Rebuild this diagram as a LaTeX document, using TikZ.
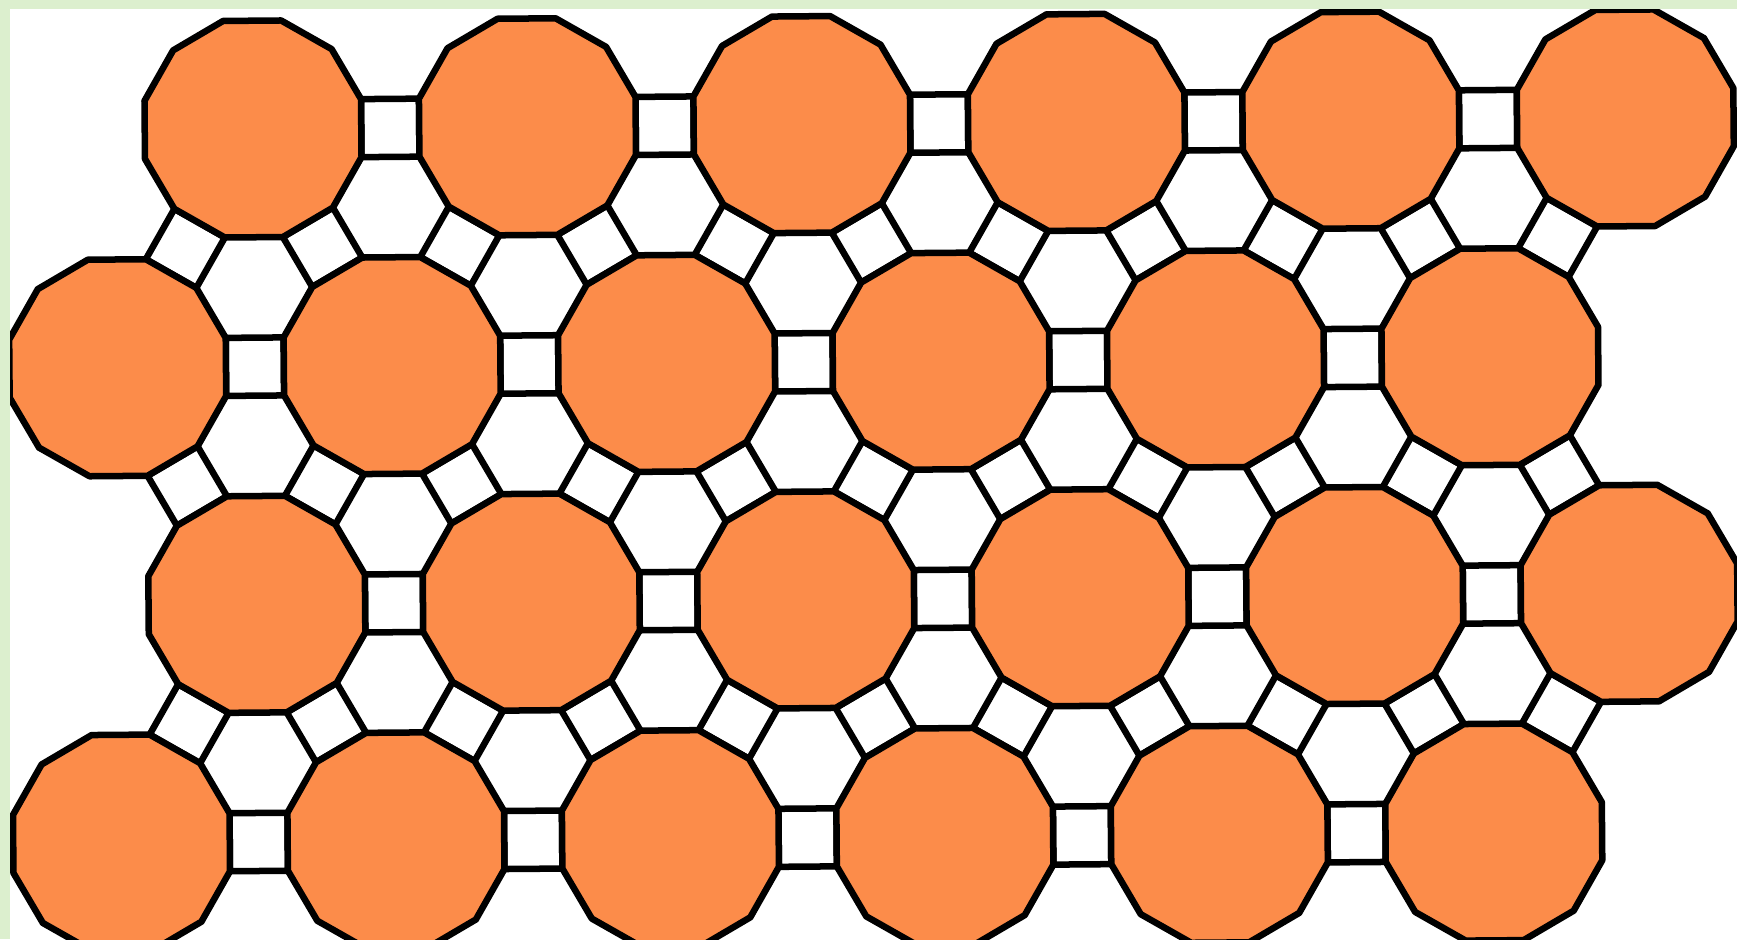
\documentclass[tikz,border=0pt]{standalone}
\usetikzlibrary{calc}
\definecolor{tileorange}{RGB}{252,140,74}
\definecolor{framegreen}{RGB}{220,239,206}
\newcommand{\tilestep}{274.5}
\newcommand{\rowstep}{237.7}
\newcommand{\dodrad}{112.1}
\newcommand{\sqnear}{0.3945}
\newcommand{\sqfar}{0.6055}
\newcommand{\sqhalf}{0.29cm}
\tikzset{
  dodeca/.style={
    draw=black, fill=tileorange, line width=0.065cm, line join=round
  },
  squaretile/.style={
    draw=black, fill=white, line width=0.065cm, line join=round
  },
  frameband/.style={fill=framegreen, draw=none}
}
% square tile between two neighbouring dodecagon centres
\newcommand{\sqtile}[2]{%
  \draw[squaretile] ($(#1)!\sqnear!(#2)!\sqhalf!90:(#2)$)
    -- ($(#1)!\sqfar!(#2)!\sqhalf!90:(#2)$)
    -- ($(#1)!\sqfar!(#2)!\sqhalf!-90:(#2)$)
    -- ($(#1)!\sqnear!(#2)!\sqhalf!-90:(#2)$) -- cycle;}

\begin{document}
\begin{tikzpicture}[x=0.01cm,y=0.01cm]
  \useasboundingbox (0,0) rectangle (1737,939);
  \clip (0,0) rectangle (1737,939);
  \fill[white] (0,0) rectangle (1737,939);

  \begin{scope}[shift={(253,810)}, rotate=0.46]
    \foreach \r in {0,...,3} {
      \foreach \c in {0,...,5} {
        \pgfmathsetmacro{\cx}{\c*\tilestep - mod(\r,2)*\tilestep/2}
        \coordinate (d-\r-\c) at (\cx, -\r*\rowstep);
      }
    }

    % squares in each row
    \foreach \r in {0,...,3} {
      \foreach \c in {0,...,4} {
        \pgfmathtruncatemacro{\cn}{\c+1}
        \sqtile{d-\r-\c}{d-\r-\cn}
      }
    }
    % squares between rows
    \foreach \r in {0,2} {
      \pgfmathtruncatemacro{\rn}{\r+1}
      \foreach \c in {0,...,5} {
        \sqtile{d-\r-\c}{d-\rn-\c}
      }
      \foreach \c in {0,...,4} {
        \pgfmathtruncatemacro{\cn}{\c+1}
        \sqtile{d-\r-\c}{d-\rn-\cn}
      }
    }
    \foreach \c in {0,...,5} {
      \sqtile{d-1-\c}{d-2-\c}
    }
    \foreach \c in {1,...,5} {
      \pgfmathtruncatemacro{\cm}{\c-1}
      \sqtile{d-1-\c}{d-2-\cm}
    }

    % dodecagons
    \foreach \r in {0,...,3} {
      \foreach \c in {0,...,5} {
        \draw[dodeca] ($(d-\r-\c)+(15:\dodrad)$)
          \foreach \k in {1,...,11} { -- ($(d-\r-\c)+(15+30*\k:\dodrad)$) }
          -- cycle;
      }
    }
  \end{scope}

  \fill[frameband] (0,0) rectangle (10,939);
  \fill[frameband] (0,930) rectangle (1737,939);
\end{tikzpicture}
\end{document}
